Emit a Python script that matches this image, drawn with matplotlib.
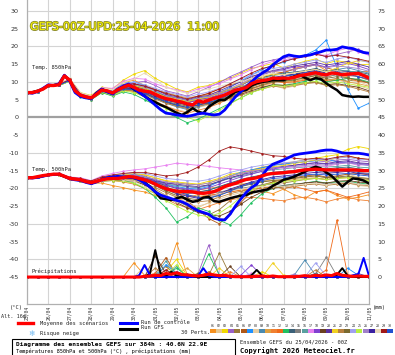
import matplotlib
matplotlib.use('Agg')
import matplotlib.pyplot as plt
import matplotlib.patheffects as pe
import matplotlib.transforms as mtransforms
from matplotlib.lines import Line2D
from matplotlib.patches import Rectangle
import numpy as np

# ---------------- data ----------------
dates = ['25/04', '26/04', '27/04', '28/04', '29/04', '30/04', '01/05', '02/05', '03/05',
         '04/05', '05/05', '06/05', '07/05', '08/05', '09/05', '10/05', '11/05']

# 6-hourly: mean of scenarios, control run, GFS run
mean_850 = [7.0, 7.0, 7.4, 8.0, 9.0, 9.0, 9.2, 11.7, 10.5, 7.5, 6.3, 5.8, 5.5, 6.5, 7.7, 7.5, 6.9,
            7.8, 8.5, 9.1, 8.5, 7.7, 7.4, 7.2, 6.5, 5.8, 5.3, 5.0, 4.6, 4.3, 3.8, 3.5, 4.7, 4.3,
            4.9, 5.4, 5.8, 6.3, 7.0, 7.7, 8.0, 8.4, 9.5, 10.1, 10.4, 10.6, 11.1, 11.0, 11.1, 11.0,
            11.3, 11.8, 12.0, 12.3, 12.6, 12.2, 12.0, 12.5, 12.4, 12.0, 12.2, 12.3, 12.4, 11.8, 11.1]
ctrl_850 = [7.0, 6.8, 7.3, 8.2, 9.2, 9.0, 9.5, 11.9, 10.2, 7.0, 5.9, 5.5, 5.3, 6.8, 8.0, 7.2, 6.6,
            8.0, 8.8, 9.4, 8.2, 7.0, 6.0, 4.8, 3.5, 2.2, 1.2, 1.0, 0.7, 0.5, 0.3, 0.6, 1.0, 1.2,
            0.9, 0.7, 0.9, 2.1, 4.0, 5.8, 7.2, 8.6, 10.0, 11.4, 12.5, 13.4, 14.8, 16.0, 17.1, 17.6,
            17.3, 17.1, 17.4, 17.6, 18.1, 18.5, 19.0, 19.0, 19.2, 19.9, 19.6, 19.4, 18.8, 18.3, 18.1]
gfs_850 = [7.0, 7.1, 7.5, 8.0, 9.0, 9.1, 9.4, 11.8, 10.4, 7.3, 6.0, 5.6, 5.4, 6.9, 8.0, 7.3, 6.8,
           7.9, 8.6, 9.2, 8.0, 7.0, 6.0, 5.0, 4.3, 3.5, 2.9, 2.1, 1.3, 0.7, 1.5, 2.6, 1.6, 1.2,
           3.0, 4.0, 4.9, 4.9, 6.0, 7.2, 7.5, 7.7, 9.0, 9.6, 10.0, 10.2, 10.5, 10.5, 10.5, 11.1,
           11.5, 12.0, 11.2, 10.5, 11.1, 10.8, 9.6, 8.6, 7.7, 6.3, 6.0, 5.8, 5.9, 5.8, 5.8]

mean_500 = [-17.0, -17.0, -16.7, -16.4, -16.2, -16.0, -16.0, -16.6, -17.2, -17.4, -17.6, -18.1, -18.4,
            -18.0, -17.6, -17.3, -17.2, -17.2, -17.0, -16.7, -16.8, -17.2, -17.6, -18.1, -18.8, -19.5,
            -20.1, -20.5, -20.8, -20.9, -20.9, -21.0, -21.3, -21.4, -21.2, -20.9, -20.3, -19.5, -19.0,
            -18.6, -18.0, -17.5, -17.3, -17.0, -16.5, -16.0, -15.8, -15.7, -15.6, -15.4, -15.3, -15.0,
            -14.8, -14.7, -14.6, -14.7, -14.8, -14.8, -14.8, -14.8, -14.8, -14.8, -14.9, -15.0, -15.0]
ctrl_500 = [-17.0, -17.1, -16.9, -16.6, -16.2, -16.1, -16.0, -16.6, -17.3, -17.6, -17.8, -18.3, -18.7,
            -18.2, -17.5, -17.0, -16.8, -16.6, -16.8, -16.9, -17.0, -17.6, -18.5, -19.6, -21.0, -21.9,
            -22.4, -22.9, -23.4, -23.8, -24.5, -25.5, -26.3, -26.8, -27.3, -28.4, -28.8, -28.9, -27.3,
            -25.0, -23.0, -21.2, -19.8, -18.8, -16.5, -14.4, -13.2, -12.6, -12.0, -11.3, -10.6, -10.3,
            -10.1, -9.9, -9.7, -9.4, -9.2, -9.2, -9.5, -10.0, -10.1, -10.1, -10.1, -10.3, -10.6]
gfs_500 = [-17.0, -17.0, -16.8, -16.5, -16.2, -16.0, -16.1, -16.7, -17.3, -17.5, -17.7, -18.2, -18.5,
           -18.1, -17.5, -17.1, -17.0, -16.9, -16.8, -16.8, -17.0, -17.5, -18.3, -19.5, -21.0, -22.8,
           -23.0, -23.3, -22.8, -22.4, -23.2, -23.8, -23.5, -22.6, -22.4, -23.6, -23.8, -23.3, -22.8,
           -22.4, -22.1, -21.9, -21.2, -20.9, -20.6, -20.3, -19.3, -18.5, -17.6, -17.2, -16.7, -16.0,
           -15.3, -14.5, -13.9, -14.4, -15.5, -16.5, -18.0, -19.5, -18.2, -17.2, -17.4, -17.8, -18.6]

mean_rr = [0, 0, 0, 0, 0, 0, 0, 0, 0, 0, 0, 0, 0, 0, 0, 0, 0, 0, 0, 0, 0, 0, 0.2, 0.3, 0.5, 0.4,
           1.0, 0.8, 1.2, 0.7, 0.6, 0.4, 0.3, 0.5, 0.8, 0.6, 0.4, 0.5, 0.2, 0.1, 0.1, 0.1, 0.1, 0.2,
           0.3, 0.1, 0.3, 0.1, 0.1, 0.1, 0.1, 0.2, 0.4, 0.2, 0.5, 0.3, 0.6, 0.4, 1.0, 0.5, 0.3, 0.2,
           0.3, 0.2, 0.2]
ctrl_rr = [0, 0, 0, 0, 0, 0, 0, 0, 0, 0, 0, 0, 0, 0, 0, 0, 0, 0, 0, 0, 0, 0.5, 3.4, 0.5, 0, 0,
           0, 0, 0, 0, 0, 0, 0.3, 2.5, 0.4, 0, 0, 0, 0, 0, 0, 0, 0, 0, 0, 0, 0, 0, 0, 0, 0, 0, 0,
           0, 0, 0, 0, 0, 0, 0, 0, 0.5, 0.8, 5.4, 0.3]
gfs_rr = [0, 0, 0, 0, 0, 0, 0, 0, 0, 0, 0, 0, 0, 0, 0, 0, 0, 0, 0, 0, 0, 0, 0, 1.0, 7.6, 1.0,
          0.2, 1.5, 0.3, 0, 0, 0, 0, 0, 0, 0, 0, 0, 0, 0, 0, 0, 0.5, 2.0, 0.4, 0, 0, 0, 0, 0, 0,
          0, 0, 0, 0, 0, 0, 0, 0.6, 2.5, 0.4, 0, 0, 0, 0]

# 12-hourly: 30 perturbed members
pert_850 = [
    [7.0, 7.5, 9.2, 9.0, 10.8, 6.8, 5.2, 7.2, 7.5, 9.8, 10.5, 9.0, 8.0, 6.5, 5.2, 4.0, 5.5, 6.8, 8.0, 9.2, 10.0, 11.5, 12.2, 13.0, 12.5, 13.8, 14.5, 15.0, 13.2, 12.0, 11.5, 12.8, 13.0],
    [7.1, 7.3, 8.8, 9.3, 10.2, 6.0, 5.8, 8.0, 6.5, 7.8, 7.0, 6.2, 4.8, 3.0, 2.2, 1.5, 2.8, 3.5, 4.2, 5.0, 6.5, 7.8, 8.5, 9.0, 8.2, 8.8, 9.5, 10.2, 9.0, 9.8, 8.5, 9.0, 8.0],
    [7.0, 7.6, 9.1, 9.4, 10.9, 7.0, 6.2, 8.5, 8.0, 10.5, 12.2, 13.2, 11.0, 9.5, 8.0, 7.2, 8.5, 9.0, 10.2, 11.0, 12.5, 13.8, 14.5, 15.2, 14.0, 15.0, 15.8, 16.5, 15.2, 16.0, 15.5, 14.8, 15.0],
    [6.9, 7.3, 8.9, 9.1, 10.4, 6.2, 5.4, 7.9, 7.2, 9.0, 9.8, 10.2, 9.0, 7.5, 6.8, 6.0, 7.2, 8.5, 9.8, 11.5, 12.8, 14.2, 15.5, 16.2, 16.8, 17.2, 17.5, 18.2, 17.0, 17.8, 18.5, 19.2, 18.0],
    [7.0, 7.4, 9.0, 9.0, 10.3, 6.1, 5.0, 7.0, 6.2, 7.5, 7.8, 6.8, 5.5, 4.5, 3.2, 2.5, 3.8, 4.0, 5.2, 6.0, 7.2, 8.5, 9.8, 10.5, 10.2, 10.8, 11.0, 11.8, 10.5, 11.0, 10.2, 10.8, 9.5],
    [7.0, 7.5, 9.1, 9.3, 10.6, 6.4, 5.6, 7.6, 6.8, 8.2, 8.0, 7.0, 6.2, 5.0, 4.2, 3.5, 4.0, 4.5, 5.5, 6.8, 8.2, 10.0, 11.2, 12.0, 12.8, 13.5, 14.2, 14.8, 14.0, 13.2, 12.5, 12.0, 11.8],
    [7.0, 7.3, 9.0, 9.2, 10.6, 6.5, 5.7, 8.0, 7.5, 9.5, 10.0, 9.0, 7.5, 6.0, 5.0, 4.2, 5.0, 5.8, 7.0, 8.5, 10.2, 12.0, 13.5, 14.8, 15.5, 16.8, 17.5, 19.0, 21.8, 14.0, 8.0, 2.6, 4.0],
    [7.0, 7.4, 8.9, 9.2, 10.5, 6.6, 5.9, 8.2, 7.0, 8.8, 8.2, 7.5, 6.0, 4.8, 4.0, 3.0, 3.5, 4.2, 5.0, 6.2, 7.0, 8.0, 8.8, 9.5, 9.2, 9.8, 10.5, 11.0, 10.2, 10.5, 9.8, 10.2, 9.0],
    [7.0, 7.5, 9.1, 9.1, 10.4, 6.0, 5.2, 7.5, 6.5, 8.0, 7.5, 6.5, 5.2, 4.0, 3.0, 2.2, 3.0, 3.8, 5.0, 6.5, 7.8, 9.2, 10.0, 10.8, 11.5, 12.2, 13.0, 13.5, 12.8, 13.5, 14.0, 13.2, 12.5],
    [7.0, 7.4, 9.0, 9.3, 10.7, 6.3, 5.5, 7.8, 6.8, 8.5, 9.0, 8.5, 7.8, 7.0, 6.2, 5.5, 6.0, 6.5, 7.2, 8.0, 8.8, 9.5, 10.0, 10.5, 10.0, 10.2, 10.8, 11.2, 10.5, 10.8, 10.0, 9.5, 8.8],
    [7.0, 7.4, 8.9, 9.2, 10.5, 6.2, 5.4, 7.6, 6.6, 8.0, 7.2, 6.0, 4.5, 3.2, 2.0, 1.2, 2.0, 2.8, 4.0, 5.5, 6.8, 8.0, 9.0, 9.8, 10.5, 11.0, 11.8, 12.0, 11.2, 12.2, 12.8, 11.5, 10.5],
    [7.0, 7.5, 9.1, 9.4, 10.8, 6.7, 5.8, 8.1, 7.2, 8.8, 8.8, 7.8, 6.8, 5.5, 5.0, 4.2, 4.8, 5.2, 6.0, 6.8, 7.5, 8.8, 9.5, 10.2, 9.8, 10.0, 10.5, 11.0, 10.2, 10.5, 11.0, 10.2, 9.8],
    [7.0, 7.3, 8.8, 9.0, 10.2, 5.8, 5.0, 7.0, 6.0, 7.2, 6.5, 5.0, 3.5, 1.5, 0.0, -1.5, -0.5, 1.0, 2.5, 4.0, 5.5, 7.0, 8.2, 9.2, 9.0, 9.5, 10.2, 10.8, 10.0, 10.5, 11.0, 10.8, 10.0],
    [7.0, 7.4, 9.0, 9.2, 10.5, 6.4, 5.6, 7.8, 7.0, 8.6, 8.8, 8.0, 7.0, 6.2, 5.5, 4.8, 5.5, 6.0, 6.8, 7.8, 9.0, 10.5, 11.2, 12.0, 12.5, 12.8, 13.2, 13.8, 13.0, 13.5, 13.0, 12.8, 12.2],
    [7.0, 7.4, 9.0, 9.1, 10.4, 6.2, 5.5, 7.6, 6.8, 8.3, 8.2, 7.2, 6.2, 5.0, 4.3, 3.6, 4.2, 4.8, 5.8, 7.0, 8.0, 9.2, 10.0, 10.8, 11.0, 11.2, 11.5, 12.2, 11.5, 12.0, 11.8, 11.5, 10.5],
    [7.0, 7.5, 9.1, 9.3, 10.6, 6.5, 5.7, 7.9, 7.1, 8.7, 9.2, 8.2, 7.2, 5.8, 5.0, 4.5, 5.2, 5.5, 6.2, 7.2, 8.5, 9.8, 10.8, 11.8, 12.2, 12.0, 12.8, 13.2, 12.5, 13.0, 13.2, 12.5, 11.8],
    [7.0, 7.4, 9.0, 9.4, 10.8, 6.8, 6.0, 8.4, 8.2, 10.2, 11.0, 10.8, 9.5, 8.5, 7.8, 7.0, 8.0, 8.8, 9.5, 10.8, 12.0, 13.5, 14.8, 15.8, 16.2, 16.8, 17.2, 17.8, 17.5, 18.8, 19.5, 18.5, 17.5],
    [7.0, 7.3, 8.9, 9.1, 10.4, 6.1, 5.3, 7.5, 6.6, 8.2, 8.5, 7.5, 6.5, 5.5, 4.8, 4.0, 5.0, 5.5, 6.5, 7.5, 9.0, 10.8, 12.0, 13.0, 13.5, 14.2, 14.5, 15.0, 14.2, 14.8, 15.2, 14.5, 13.5],
    [7.0, 7.4, 9.0, 9.2, 10.5, 6.3, 5.5, 7.7, 6.9, 8.4, 8.0, 6.8, 5.5, 4.2, 3.5, 2.8, 3.5, 4.0, 4.8, 5.8, 6.5, 7.5, 8.5, 9.2, 9.0, 9.2, 9.8, 10.0, 9.2, 9.5, 9.0, 8.5, 7.5],
    [7.0, 7.5, 9.1, 9.3, 10.6, 6.6, 5.8, 8.0, 7.3, 9.2, 9.5, 8.8, 7.8, 6.5, 5.8, 5.0, 5.8, 6.2, 7.5, 8.8, 10.0, 11.5, 12.5, 13.2, 13.8, 14.5, 15.0, 15.5, 14.8, 15.2, 15.8, 15.0, 14.2],
    [7.0, 7.4, 9.0, 9.2, 10.6, 6.5, 5.6, 7.8, 7.0, 8.8, 9.0, 8.2, 7.0, 5.8, 5.2, 4.5, 5.2, 5.8, 6.8, 8.0, 9.2, 10.8, 11.5, 12.2, 12.0, 12.5, 13.0, 13.5, 12.8, 14.0, 15.2, 16.0, 15.8],
    [7.0, 7.3, 8.9, 9.0, 10.3, 6.0, 5.2, 7.3, 6.3, 7.8, 7.5, 6.5, 5.2, 4.0, 3.2, 2.5, 3.2, 3.8, 4.5, 5.5, 6.2, 7.2, 8.0, 8.8, 8.5, 9.0, 9.5, 9.8, 9.0, 9.2, 8.8, 8.0, 7.2],
    [7.0, 7.4, 9.0, 9.1, 10.4, 6.2, 5.4, 7.6, 6.7, 8.1, 7.8, 6.8, 5.8, 4.5, 3.8, 3.2, 4.0, 4.2, 5.0, 6.0, 7.0, 8.2, 9.2, 10.0, 10.2, 10.5, 11.2, 11.8, 11.0, 11.5, 11.2, 10.5, 9.8],
    [7.0, 7.5, 9.1, 9.3, 10.7, 6.6, 5.7, 8.0, 7.4, 9.4, 10.0, 9.2, 8.2, 7.2, 6.5, 5.8, 6.5, 7.2, 8.2, 9.5, 10.8, 12.0, 13.0, 13.8, 14.2, 15.0, 15.5, 16.2, 15.5, 16.5, 17.0, 16.2, 15.5],
    [7.0, 7.3, 8.9, 9.0, 10.2, 5.9, 5.1, 7.2, 6.2, 7.5, 7.0, 5.8, 4.2, 2.5, 1.0, 0.0, -1.0, 0.5, 2.0, 3.8, 5.5, 7.0, 8.0, 9.0, 8.8, 9.2, 9.8, 10.2, 9.5, 10.0, 9.5, 9.0, 8.5],
    [7.0, 7.4, 9.0, 9.3, 10.6, 6.4, 5.6, 7.9, 7.2, 8.9, 9.4, 8.5, 7.5, 6.2, 5.5, 4.8, 5.5, 6.0, 7.0, 8.2, 9.5, 11.0, 12.2, 13.0, 13.2, 13.5, 14.2, 14.8, 14.0, 14.5, 14.2, 13.8, 13.0],
    [7.0, 7.4, 9.0, 9.2, 10.5, 6.3, 5.5, 7.7, 6.9, 8.4, 8.2, 7.2, 6.0, 4.8, 4.2, 3.5, 4.2, 4.8, 5.8, 7.0, 8.2, 9.5, 10.5, 11.2, 11.8, 12.2, 12.8, 13.2, 12.5, 13.0, 12.8, 12.2, 11.2],
    [7.0, 7.5, 9.2, 9.5, 11.0, 7.0, 6.0, 8.2, 7.8, 9.8, 10.8, 12.5, 10.5, 8.5, 7.5, 6.8, 7.5, 8.0, 8.8, 9.5, 10.2, 11.0, 11.8, 12.5, 12.0, 12.5, 13.0, 13.5, 12.8, 13.2, 12.5, 12.0, 11.5],
    [7.0, 7.4, 9.0, 9.3, 10.7, 6.5, 5.7, 8.0, 7.2, 9.0, 9.5, 8.8, 7.8, 6.8, 6.0, 5.2, 6.0, 6.8, 8.0, 9.5, 11.0, 12.5, 13.8, 14.5, 15.8, 16.5, 17.2, 17.8, 17.2, 17.5, 17.0, 16.5, 15.8],
    [7.0, 7.3, 8.9, 9.1, 10.4, 6.2, 5.3, 7.4, 6.5, 8.0, 7.8, 6.8, 5.5, 4.5, 3.5, 2.8, 3.5, 4.2, 5.2, 6.5, 7.8, 9.0, 10.2, 11.0, 11.5, 12.0, 12.5, 13.0, 12.2, 12.8, 12.2, 11.5, 10.8],
]

pert_500 = [
    [-17.0, -16.8, -16.3, -16.1, -17.3, -17.8, -18.6, -18.5, -19.2, -19.8, -20.5, -21.0, -22.0, -22.8, -23.5, -22.5, -21.8, -22.0, -21.5, -21.0, -20.5, -21.2, -20.8, -21.5, -20.2, -21.8, -22.8, -21.0, -20.5, -22.0, -23.0, -22.5, -21.8],
    [-17.0, -16.7, -16.2, -16.0, -17.0, -17.4, -18.2, -17.2, -16.8, -16.5, -16.2, -17.0, -18.5, -20.5, -22.5, -24.0, -25.5, -24.0, -22.0, -20.5, -19.2, -18.5, -18.0, -17.5, -17.8, -17.2, -16.8, -16.5, -17.0, -16.5, -16.0, -16.8, -17.2],
    [-17.0, -16.6, -16.1, -15.9, -17.0, -17.3, -18.0, -17.0, -16.5, -16.0, -15.8, -16.2, -17.0, -17.8, -18.2, -18.5, -18.8, -18.0, -17.2, -16.0, -15.5, -14.8, -14.0, -13.5, -13.0, -12.5, -12.0, -11.5, -11.0, -10.5, -9.0, -8.2, -8.8],
    [-17.0, -16.7, -16.2, -16.0, -17.1, -17.5, -18.3, -17.4, -16.8, -16.4, -16.0, -16.5, -17.5, -18.5, -19.0, -19.5, -19.8, -19.2, -18.2, -17.0, -16.2, -15.0, -14.2, -13.5, -13.0, -12.8, -12.5, -12.2, -12.5, -12.0, -11.8, -12.2, -12.5],
    [-17.0, -16.8, -16.3, -16.1, -17.3, -17.7, -18.5, -17.8, -17.5, -17.5, -17.8, -18.8, -20.2, -22.0, -23.5, -25.0, -26.5, -27.5, -26.0, -23.5, -21.5, -20.0, -19.0, -18.2, -18.5, -18.0, -17.5, -17.2, -17.5, -17.0, -16.8, -17.2, -17.5],
    [-17.0, -16.7, -16.2, -16.0, -17.2, -17.6, -18.4, -17.6, -17.2, -16.8, -16.5, -16.8, -17.8, -19.5, -21.0, -23.5, -26.0, -28.5, -30.0, -27.0, -24.0, -21.0, -19.5, -18.2, -17.5, -17.0, -16.5, -16.2, -16.8, -16.5, -16.0, -15.8, -16.2],
    [-17.0, -16.6, -16.1, -15.9, -17.1, -17.5, -18.2, -17.3, -16.8, -16.5, -16.2, -16.8, -17.8, -18.8, -19.5, -20.0, -20.2, -19.5, -18.0, -16.5, -15.5, -14.8, -14.2, -13.5, -13.2, -12.8, -12.5, -12.2, -11.8, -12.5, -12.8, -13.2, -13.5],
    [-17.0, -16.8, -16.2, -16.1, -17.2, -17.8, -18.6, -18.0, -17.6, -17.5, -17.8, -19.0, -20.5, -22.0, -23.5, -24.5, -25.0, -24.2, -23.0, -22.0, -21.2, -20.5, -20.0, -19.5, -19.8, -19.2, -19.0, -18.5, -19.0, -18.8, -18.5, -19.2, -19.5],
    [-17.0, -16.7, -16.2, -16.0, -17.2, -17.6, -18.4, -17.5, -17.0, -16.8, -16.5, -17.0, -18.2, -19.8, -21.0, -21.5, -21.2, -20.5, -19.5, -18.5, -17.8, -17.0, -16.5, -16.0, -15.8, -15.5, -15.2, -15.0, -15.5, -15.2, -15.0, -15.5, -15.8],
    [-17.0, -16.8, -16.3, -16.1, -17.2, -17.7, -18.5, -17.7, -17.4, -17.2, -17.0, -17.8, -19.0, -20.5, -21.5, -21.0, -20.5, -20.0, -19.5, -19.0, -18.8, -18.5, -18.0, -17.8, -18.0, -17.5, -17.2, -17.0, -17.5, -17.2, -17.0, -17.5, -17.8],
    [-17.0, -16.7, -16.2, -16.0, -17.1, -17.6, -18.3, -17.8, -17.8, -18.2, -18.8, -20.0, -21.5, -23.0, -24.5, -25.5, -26.0, -25.0, -24.0, -23.2, -22.8, -22.5, -22.8, -23.2, -23.5, -22.8, -22.5, -23.0, -23.8, -23.0, -22.5, -23.2, -23.5],
    [-17.0, -16.8, -16.3, -16.0, -17.2, -17.7, -18.5, -17.6, -17.2, -16.9, -16.8, -17.5, -18.5, -20.0, -21.2, -22.0, -22.5, -22.0, -21.5, -21.0, -20.5, -20.2, -20.0, -19.5, -20.0, -19.5, -20.2, -21.0, -20.5, -21.5, -22.5, -21.8, -21.0],
    [-17.0, -16.7, -16.2, -16.0, -17.2, -17.6, -18.4, -17.7, -17.5, -17.8, -18.5, -20.0, -22.5, -25.5, -29.5, -28.0, -25.5, -26.5, -29.0, -30.3, -27.5, -24.0, -21.5, -20.0, -19.2, -18.8, -18.5, -18.0, -18.5, -18.2, -18.0, -18.5, -18.8],
    [-17.0, -16.7, -16.2, -16.0, -17.1, -17.5, -18.3, -17.5, -17.0, -16.8, -16.6, -17.2, -18.2, -19.2, -20.0, -20.5, -21.0, -20.5, -19.5, -18.5, -17.5, -16.8, -16.2, -15.5, -15.2, -15.0, -14.5, -14.2, -14.5, -14.2, -14.0, -14.5, -14.8],
    [-17.0, -16.7, -16.2, -16.0, -17.2, -17.6, -18.4, -17.6, -17.2, -17.0, -16.8, -17.5, -18.6, -19.8, -20.5, -21.0, -21.5, -21.5, -21.0, -20.5, -20.0, -19.5, -19.0, -18.8, -19.2, -18.8, -18.5, -18.2, -18.8, -18.5, -18.2, -18.8, -19.0],
    [-17.0, -16.7, -16.2, -16.0, -17.1, -17.5, -18.3, -17.4, -17.0, -16.6, -16.3, -16.8, -17.8, -18.8, -19.2, -19.5, -19.8, -19.0, -18.0, -17.2, -16.5, -15.8, -15.2, -14.8, -14.5, -14.2, -14.0, -13.8, -14.0, -13.8, -13.5, -14.0, -14.2],
    [-17.0, -16.6, -16.0, -15.8, -16.8, -17.0, -17.8, -16.5, -15.8, -15.2, -14.8, -14.5, -14.0, -13.5, -12.9, -13.2, -13.5, -13.8, -14.2, -14.5, -14.8, -15.0, -14.8, -14.5, -14.2, -14.0, -13.8, -13.5, -13.8, -13.2, -12.8, -13.5, -13.2],
    [-17.0, -16.7, -16.2, -16.0, -17.2, -17.6, -18.4, -17.6, -17.1, -16.9, -16.6, -17.2, -18.0, -19.0, -19.8, -20.2, -20.5, -19.8, -18.8, -17.8, -16.8, -16.0, -15.2, -14.5, -14.0, -13.5, -13.2, -12.8, -13.2, -12.8, -12.5, -13.0, -13.2],
    [-17.0, -16.8, -16.3, -16.1, -17.3, -17.8, -18.6, -18.0, -17.8, -17.8, -18.0, -19.0, -20.8, -22.5, -24.0, -25.5, -26.8, -27.5, -27.8, -26.5, -24.5, -22.5, -21.0, -20.0, -19.5, -19.0, -18.5, -18.2, -18.5, -18.0, -17.8, -18.2, -18.5],
    [-17.0, -16.7, -16.2, -16.0, -17.1, -17.5, -18.3, -17.4, -16.9, -16.6, -16.4, -17.0, -17.8, -18.5, -18.8, -19.2, -19.5, -19.0, -18.0, -17.0, -16.2, -15.5, -14.8, -14.2, -13.8, -13.5, -13.0, -12.8, -13.0, -12.5, -12.2, -12.8, -13.0],
    [-17.0, -16.7, -16.1, -15.9, -17.0, -17.4, -18.2, -17.2, -16.6, -16.2, -15.8, -16.2, -17.0, -18.0, -18.5, -18.8, -19.0, -18.5, -17.5, -16.5, -15.8, -15.0, -14.5, -14.0, -13.5, -13.0, -12.5, -12.0, -12.2, -11.5, -11.0, -11.5, -12.0],
    [-17.0, -16.8, -16.3, -16.1, -17.3, -17.8, -18.6, -17.9, -17.6, -17.4, -17.5, -18.5, -19.8, -21.2, -22.5, -23.2, -23.8, -23.5, -22.5, -21.5, -20.8, -20.2, -19.8, -19.5, -20.0, -19.5, -19.0, -18.8, -19.2, -18.8, -18.5, -19.0, -19.2],
    [-17.0, -16.7, -16.2, -16.0, -17.2, -17.7, -18.5, -17.7, -17.3, -17.1, -17.0, -17.8, -19.2, -20.8, -22.0, -22.8, -23.2, -22.8, -21.8, -20.5, -19.5, -18.8, -18.2, -17.8, -17.5, -17.2, -16.8, -16.5, -17.0, -16.8, -16.5, -17.0, -17.2],
    [-17.0, -16.6, -16.1, -15.9, -17.0, -17.3, -18.1, -17.0, -16.4, -16.0, -15.6, -15.8, -16.5, -17.2, -17.5, -17.8, -18.0, -17.5, -16.5, -15.5, -14.8, -14.0, -13.5, -13.0, -12.8, -12.5, -12.0, -11.8, -12.0, -11.5, -11.2, -11.8, -12.0],
    [-17.0, -16.8, -16.3, -16.1, -17.3, -17.8, -18.6, -18.0, -17.8, -18.0, -18.5, -19.8, -21.5, -23.5, -25.0, -26.5, -27.5, -28.0, -27.0, -25.0, -22.5, -20.5, -19.2, -18.5, -18.0, -17.8, -17.5, -17.2, -17.5, -17.2, -17.0, -17.5, -17.8],
    [-17.0, -16.7, -16.2, -16.0, -17.1, -17.5, -18.3, -17.4, -16.9, -16.6, -16.3, -16.8, -17.5, -18.2, -18.5, -18.8, -19.0, -18.5, -17.5, -16.5, -15.8, -15.2, -14.8, -14.2, -14.0, -13.8, -13.5, -13.2, -13.5, -13.0, -12.8, -13.2, -13.5],
    [-17.0, -16.7, -16.2, -16.0, -17.2, -17.6, -18.4, -17.6, -17.2, -17.0, -16.9, -17.6, -18.8, -20.2, -21.5, -22.2, -22.8, -22.5, -21.5, -20.2, -19.2, -18.2, -17.5, -16.8, -16.5, -16.2, -15.8, -15.5, -15.8, -15.5, -15.2, -15.8, -16.0],
    [-17.0, -16.8, -16.3, -16.1, -17.3, -17.7, -18.5, -17.8, -17.5, -17.6, -18.0, -19.5, -21.2, -22.8, -23.8, -24.0, -23.5, -22.5, -21.5, -20.8, -20.2, -19.8, -19.5, -19.2, -19.5, -19.0, -18.8, -18.5, -19.0, -18.5, -18.2, -18.8, -19.0],
    [-17.0, -16.6, -16.0, -15.8, -16.9, -17.2, -17.9, -16.8, -16.2, -15.8, -15.5, -15.5, -16.0, -16.5, -16.2, -15.5, -14.0, -12.0, -9.5, -8.3, -8.8, -9.5, -10.2, -10.8, -11.0, -11.5, -11.8, -11.5, -11.8, -11.2, -10.8, -11.5, -11.8],
    [-17.0, -16.7, -16.2, -16.0, -17.2, -17.6, -18.4, -17.6, -17.2, -17.0, -16.8, -17.4, -18.5, -19.8, -20.8, -21.8, -22.5, -22.8, -22.0, -20.8, -19.5, -18.5, -17.8, -17.2, -17.0, -16.5, -16.2, -16.0, -16.2, -16.0, -15.8, -16.2, -16.5],
]

pert_rr = [
    [0, 0, 0, 0, 0, 0, 0, 0, 0, 0, 4.0, 0.5, 0, 0.8, 9.6, 0.5, 0, 0, 0, 0, 0, 0, 0, 0, 0, 0, 0, 0, 0, 0, 0, 0, 0],
    [0, 0, 0, 0, 0, 0, 0, 0, 0, 0, 0, 3.0, 0.2, 0, 0, 0, 1.0, 0, 0, 0, 0, 0, 0, 0, 0, 0, 0, 0, 0, 0.5, 0, 0, 0],
    [0, 0, 0, 0, 0, 0, 0, 0, 0, 0, 0, 0, 0.5, 1.5, 5.0, 0.3, 0, 0, 0, 0, 0, 0, 1.5, 0, 0, 0, 0, 0, 0, 0, 0, 0, 0],
    [0, 0, 0, 0, 0, 0, 0, 0, 0, 0, 0, 0, 0, 2.0, 0.5, 0, 0.8, 9.0, 0.5, 0, 0, 0, 0, 0, 0, 0, 0, 0, 0, 0, 0, 0, 0],
    [0, 0, 0, 0, 0, 0, 0, 0, 0, 0, 0, 0, 0.3, 3.0, 0.5, 0, 0, 0.5, 6.8, 0.5, 0, 0, 0, 0, 0, 0, 0, 0, 0, 0, 0, 0, 0],
    [0, 0, 0, 0, 0, 0, 0, 0, 0, 0, 0, 0, 1.0, 5.5, 0.5, 0, 0, 1.5, 0, 0, 0, 0, 0, 0, 0, 0, 0, 0, 0, 0, 0, 0, 0],
    [0, 0, 0, 0, 0, 0, 0, 0, 0, 0, 0, 0, 0, 3.5, 1.0, 0, 0, 0, 0, 0, 0, 0, 0, 0, 0, 0, 0, 0, 0, 0, 2.5, 0.5, 0],
    [0, 0, 0, 0, 0, 0, 0, 0, 0, 0, 0, 0, 0, 0.8, 0.5, 0, 0, 0, 0, 0, 0, 0, 0, 0, 0, 0, 0, 0, 0, 0, 0, 0, 0],
    [0, 0, 0, 0, 0, 0, 0, 0, 0, 0, 0, 0, 0, 0.5, 3.0, 0, 0, 0, 0, 0, 0, 0, 0, 0, 0, 0.5, 4.8, 0.5, 0, 0, 0, 0, 0],
    [0, 0, 0, 0, 0, 0, 0, 0, 0, 0, 0, 0, 0, 0, 0.8, 2.5, 0, 0, 0, 0, 0, 0, 0, 0, 0, 0, 0, 0, 0, 0, 0, 0, 0],
    [0, 0, 0, 0, 0, 0, 0, 0, 0, 0, 0, 0, 1.0, 0.3, 0, 0, 0, 0, 0, 1.5, 0, 0, 0, 0, 0, 0, 0, 0, 0, 0, 0, 0, 0],
    [0, 0, 0, 0, 0, 0, 0, 0, 0, 0, 0, 0, 0, 1.0, 0, 0, 0, 0, 0, 0, 0, 0, 0, 0, 0, 0, 0, 0, 2.0, 16.0, 0.5, 0, 0],
    [0, 0, 0, 0, 0, 0, 0, 0, 0, 0, 0, 0, 0, 0.5, 2.5, 0.3, 0, 6.5, 0.5, 0, 0, 0, 0, 0, 0, 0, 0, 0, 0, 0, 0, 0, 0],
    [0, 0, 0, 0, 0, 0, 0, 0, 0, 0, 0, 0, 0, 1.2, 0, 0, 0, 0, 0, 0, 0, 0, 0, 0, 0, 0, 0, 1.0, 0, 0, 0, 0, 0],
    [0, 0, 0, 0, 0, 0, 0, 0, 0, 0, 0, 0, 0, 0.5, 0, 0, 0, 0, 0, 0, 0, 0, 0, 0, 0, 0, 0, 0.8, 5.6, 0.3, 0, 0, 0],
    [0, 0, 0, 0, 0, 0, 0, 0, 0, 0, 0, 0, 0.5, 4.5, 0.5, 0, 0, 0, 0, 0, 0, 0, 0, 0, 0, 0, 0, 0, 0, 0, 0, 0, 0],
    [0, 0, 0, 0, 0, 0, 0, 0, 0, 0, 0, 0, 0, 0, 0, 0, 0, 0, 0, 0, 0, 1.0, 0, 0, 0, 0, 0, 0, 0, 0, 0, 0, 0],
    [0, 0, 0, 0, 0, 0, 0, 0, 0, 0, 0, 0, 0, 0.5, 0, 0, 0, 0, 0, 0, 0.5, 3.4, 0.3, 0, 0, 0, 0, 0, 0, 0, 0, 0, 0],
    [0, 0, 0, 0, 0, 0, 0, 0, 0, 0, 0, 0, 6.0, 1.0, 0, 0, 0, 0, 0, 3.0, 0, 0, 0, 0, 0, 0, 0, 0, 0, 0, 0, 0, 0],
    [0, 0, 0, 0, 0, 0, 0, 0, 0, 0, 0, 0, 0, 0.3, 1.5, 0, 0, 0, 0, 0, 0, 0, 0, 0, 0, 0, 0, 0, 0, 0, 0, 0, 0],
    [0, 0, 0, 0, 0, 0, 0, 0, 0, 0, 0, 0, 0, 0.5, 0, 0, 0, 0, 2.5, 0, 0, 0, 0, 4.0, 0.5, 0, 0, 0, 0, 0, 0, 0, 0],
    [0, 0, 0, 0, 0, 0, 0, 0, 0, 0, 0, 0, 2.5, 0.5, 0, 0, 0, 0, 0, 0, 0, 0, 0, 0, 0, 0, 0, 2.0, 0, 0, 0, 0, 0],
    [0, 0, 0, 0, 0, 0, 0, 0, 0, 0, 0, 0, 0, 0.3, 0, 0, 1.0, 0, 0, 0, 0, 0, 0, 0, 0, 0, 0, 0, 0, 0, 0, 0, 0],
    [0, 0, 0, 0, 0, 0, 0, 0, 0, 0, 0, 0, 0, 0.5, 0, 0, 0, 0, 0, 0, 3.0, 0, 0, 0, 0, 0, 0, 4.0, 0.3, 0, 0, 0, 0],
    [0, 0, 0, 0, 0, 0, 0, 0, 0, 0, 0, 0, 0, 0.5, 3.5, 0, 0, 0, 0, 0, 0, 0, 0, 0, 0, 0, 0, 0, 0, 0, 0, 0, 0],
    [0, 0, 0, 0, 0, 0, 0, 0, 0, 0, 0, 0, 0, 1.0, 0, 0, 0, 0, 0, 0, 0, 0, 0, 0, 0, 0.8, 0, 0, 0, 0, 0, 0, 0],
    [0, 0, 0, 0, 0, 0, 0, 0, 0, 0, 0, 0, 0, 0, 0.3, 0.8, 0, 0, 0, 0, 0, 0, 0, 0, 0, 0, 0, 0, 0, 0, 0, 0, 0],
    [0, 0, 0, 0, 0, 0, 0, 0, 0, 0, 0, 0, 0.3, 1.5, 0, 0, 0, 0, 0, 0, 0, 0, 0, 0, 0, 0, 0, 0, 0, 0, 0, 0, 0],
    [0, 0, 0, 0, 0, 0, 0, 0, 0, 0, 0, 0, 0, 2.0, 0.3, 0, 0, 0, 0, 0, 0, 0, 0, 0, 0, 0, 0, 0, 0, 0, 0, 0, 0],
    [0, 0, 0, 0, 0, 0, 0, 0, 0, 0, 0, 0, 0, 0.3, 1.2, 0, 0, 0, 0, 0, 0, 0, 0, 0, 0, 0, 0, 0, 0, 0, 0, 1.0, 0],
]

pert_colors = ['#f5901e', '#e8c890', '#f0d800', '#9a60c8', '#9a7a3a', '#b05818', '#1e90ff', '#e6cda2',
               '#4a8ab0', '#e0a040', '#f08030', '#f06a1a', '#20c060', '#3a6078', '#808080', '#5aa0a0',
               '#e880f0', '#8040d0', '#6a4020', '#5a30a0', '#f0d020', '#b88040', '#7a6a30', '#a0a0f0',
               '#b8f040', '#a080c8', '#3a20a0', '#e8d8b8', '#a01818', '#2050d0']

# ---------------- figure ----------------
W, H = 395, 355
fig = plt.figure(figsize=(W / 100, H / 100), dpi=100)
fig.patch.set_facecolor('white')

def fx(px):
    return px / W

def fy(py):
    return 1 - py / H

ax = fig.add_axes([fx(27), fy(304), fx(369) - fx(27), fy(0) - fy(304)])
ax.set_xlim(0, 384)
ax.set_ylim(-52.6, 33.1)

grid_c = '#d4d4d4'
for d in range(len(dates)):
    ax.axvline(d * 24, color=grid_c, lw=0.8, zorder=0)
for v in [30, 20, 10, -10, -20, -30, -40]:
    ax.axhline(v, color=grid_c, lw=0.8, zorder=0)
ax.axhline(0, color='#a0a0a0', lw=1.6, zorder=0)

ax2 = ax.twinx()
ax2.set_ylim(-52.6 + 45, 33.1 + 45)

# members
for k in range(len(pert_850)):
    c = pert_colors[k]
    for s, a in [(pert_850[k], ax), (pert_500[k], ax), (pert_rr[k], ax2)]:
        h = np.arange(len(s)) * 12
        a.plot(h, s, color=c, lw=0.6, marker='.', ms=1.5, zorder=2)

# GFS, control, mean
for s in [gfs_850, gfs_500]:
    ax.plot(np.arange(len(s)) * 6, s, color='black', lw=1.8, zorder=3)
ax2.plot(np.arange(len(gfs_rr)) * 6, gfs_rr, color='black', lw=1.4, zorder=3)
for s in [ctrl_850, ctrl_500]:
    ax.plot(np.arange(len(s)) * 6, s, color='#0000ff', lw=2.0, zorder=4)
ax2.plot(np.arange(len(ctrl_rr)) * 6, ctrl_rr, color='#0000ff', lw=1.4, zorder=4)
for s in [mean_850, mean_500]:
    ax.plot(np.arange(len(s)) * 6, s, color='#ff0000', lw=2.4, zorder=5)
ax2.plot(np.arange(len(mean_rr)) * 6, mean_rr, color='#ff0000', lw=2.2, zorder=5)

# axes styling
tick_font = dict(fontsize=4.6, color='#333333')
ax.set_yticks(np.arange(-45, 31, 5))
ax.set_yticklabels([str(v) for v in range(-45, 31, 5)], **tick_font)
ax2.set_yticks(np.arange(0, 76, 5))
ax2.set_yticklabels([str(v) for v in range(0, 76, 5)], **tick_font)
ax.set_xticks(np.arange(len(dates)) * 24)
ax.set_xticklabels(dates, rotation=90, fontsize=3.4, color='#333333', family='DejaVu Sans Mono')
shift = mtransforms.ScaledTranslation(3.5 / 100, 0, fig.dpi_scale_trans)
for lab in ax.get_xticklabels():
    lab.set_transform(lab.get_transform() + shift)
ax.tick_params(axis='y', length=0, pad=6)
ax2.tick_params(axis='y', length=0, pad=6)
ax.tick_params(axis='x', length=0, pad=1.2)
for a in (ax, ax2):
    for sp in a.spines.values():
        sp.set_color('#b0b0b0')
        sp.set_linewidth(0.8)
    a.spines['top'].set_visible(False)

# labels inside plot
small = dict(fontsize=3.9, color='#222222', family='DejaVu Sans Mono', va='center')
fig.text(fx(32), fy(68), 'Temp. 850hPa', **small)
fig.text(fx(32), fy(169), 'Temp. 500hPa', **small)
fig.text(fx(32), fy(271), 'Précipitations', **small)

fig.text(fx(30), fy(27), 'GEFS-00Z-UPD:25-04-2026  11:00', fontsize=8.0, color='#f4f000',
         va='center', ha='left',
         path_effects=[pe.Stroke(linewidth=1.2, foreground='#8a8a30'), pe.Normal()])

# bottom legend
fig.text(fx(10), fy(308), '(°C)', **small)
fig.text(fx(1), fy(316), 'Alt. 16m', fontsize=3.7, color='#222222', family='DejaVu Sans Mono',
         va='center')
fig.text(fx(373), fy(308), '(mm)', **small)

fig.add_artist(Line2D([fx(18), fx(33)], [fy(323), fy(323)], color='#ff0000', lw=2.4))
fig.text(fx(40), fy(323), 'Moyenne des scénarios', **small)
fig.add_artist(Line2D([fx(120), fx(137)], [fy(323), fy(323)], color='#0000ff', lw=2.2))
fig.text(fx(141), fy(322.8), 'Run de contrôle', **small)
fig.add_artist(Line2D([fx(120), fx(137)], [fy(328.5), fy(328.5)], color='black', lw=2.2))
fig.text(fx(141), fy(327.8), 'Run GFS', **small)
fig.text(fx(32), fy(333), '❄', fontsize=5.5, color='#70b8f0', ha='center', va='center')
fig.text(fx(40), fy(334), 'Risque neige', **small)
fig.text(fx(181), fy(332), '30 Perts.', **small)

for k, c in enumerate(pert_colors):
    xc = 213 + k * 6.1
    fig.text(fx(xc), fy(326), '%02d' % (k + 1), fontsize=2.3, color='#222222',
             ha='center', va='center', family='DejaVu Sans Mono')
    fig.add_artist(Rectangle((fx(xc - 3), fy(333)), fx(6), fy(329) - fy(333),
                             facecolor=c, edgecolor='none'))

fig.add_artist(Rectangle((fx(12), fy(356)), fx(235) - fx(12), fy(339) - fy(356),
                         facecolor='white', edgecolor='black', lw=0.8))
fig.text(fx(16), fy(344.5), 'Diagramme des ensembles GEFS sur 384h : 40.6N 22.9E',
         fontsize=4.5, weight='bold', color='black', family='DejaVu Sans Mono', va='center')
fig.text(fx(16), fy(351.5), 'Températures 850hPa et 500hPa (°C) , précipitations (mm)',
         fontsize=3.8, color='black', family='DejaVu Sans Mono', va='center')
fig.text(fx(240), fy(342), 'Ensemble GEFS du 25/04/2026 - 00Z', **small)
fig.text(fx(240), fy(351), 'Copyright 2026 Meteociel.fr', fontsize=5.0, weight='bold',
         color='black', family='DejaVu Sans Mono', va='center')

fig.savefig('out.png', dpi=100, facecolor='white')
